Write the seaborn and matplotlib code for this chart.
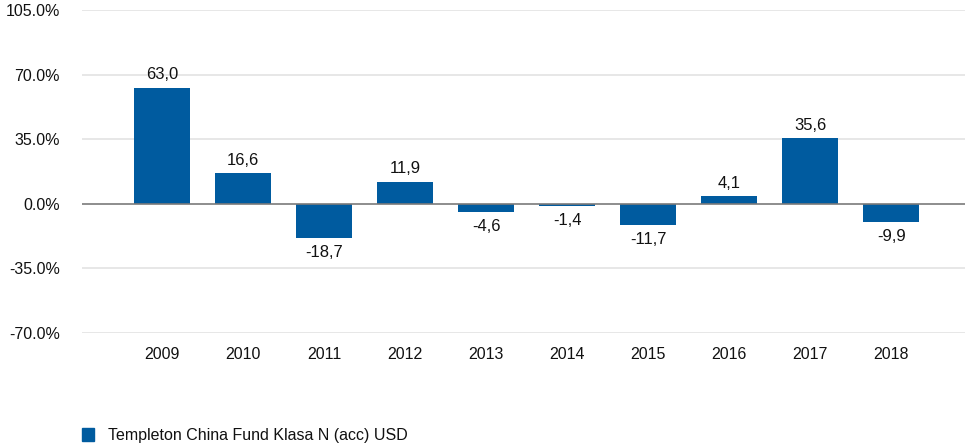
import numpy as np
import pandas as pd
import matplotlib
matplotlib.use("Agg")
import matplotlib.pyplot as plt
import seaborn as sns

years = ['2009', '2010', '2011', '2012', '2013', '2014', '2015', '2016', '2017', '2018']
returns = [63.0, 16.6, -18.7, 11.9, -4.6, -1.4, -11.7, 4.1, 35.6, -9.9]
yticks = [-70, -35, 0, 35, 70, 105]
series_name = 'Templeton China Fund Klasa N (acc) USD'

df = pd.DataFrame({'year': years, 'ret': returns})

sns.set_style('white')
plt.rcParams['font.family'] = ['Liberation Sans', 'DejaVu Sans']

fig = plt.figure(figsize=(9.65, 4.44), dpi=100)
ax = fig.add_axes([82/965, 1-333/444, 1-82/965, (333-10)/444])

blue = '#005B9F'
sns.barplot(data=df, x='year', y='ret', color=blue, width=0.69, saturation=1,
            linewidth=0, ax=ax, zorder=2)

for i, v in enumerate(returns):
    lbl = f'{v:.1f}'.replace('.', ',')
    if v >= 0:
        ax.annotate(lbl, (i, v), xytext=(0, 4), textcoords='offset points',
                    ha='center', va='bottom', fontsize=12, color='#111111')
    else:
        ax.annotate(lbl, (i, v), xytext=(0, -5), textcoords='offset points',
                    ha='center', va='top', fontsize=12, color='#111111')

ax.set_ylim(-70, 105)
ax.set_xlim(-0.99, 9.91)
ax.set_yticks(yticks)
ax.set_yticklabels([f'{t:.1f}%' for t in yticks], fontsize=11.5, color='#111111')
ax.tick_params(axis='x', labelsize=11.5, colors='#111111', length=0, pad=10)
ax.tick_params(axis='y', length=0, pad=16)
for t in yticks:
    if t != 0:
        ax.axhline(t, color='#e3e3e3', lw=1.2, zorder=0)
ax.axhline(0, color='#7a7a7a', lw=1.2, zorder=3)
ax.set_xlabel('')
ax.set_ylabel('')
for s in ax.spines.values():
    s.set_visible(False)

fig.patches.append(plt.Rectangle((82/965, 1-441/444), 12/965, 13/444,
                                 transform=fig.transFigure, color=blue))
fig.text(108/965, 1-435/444, series_name, fontsize=11.5, color='#111111', va='center')

fig.savefig('out.png', dpi=100)
